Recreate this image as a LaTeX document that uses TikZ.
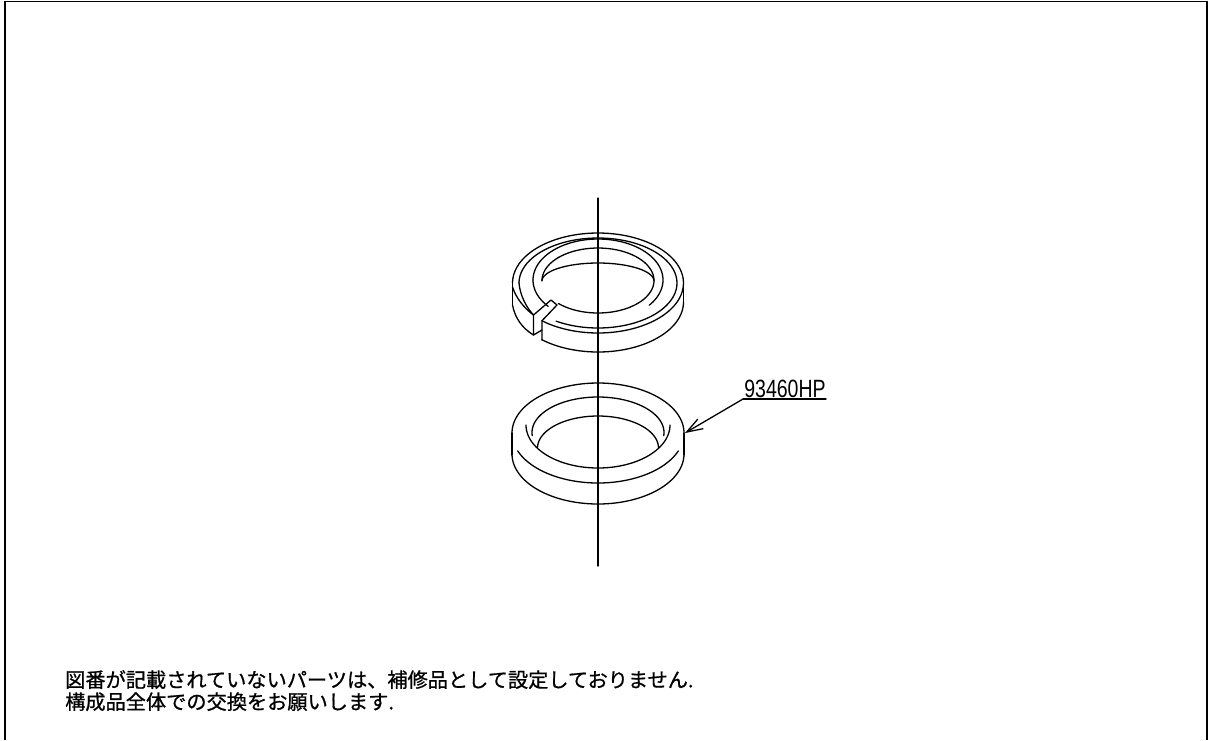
\documentclass[tikz,border=0pt]{standalone}
\usepackage{fontspec}
\newfontfamily\jpfont[FakeBold=0.8]{Noto Sans CJK JP}
\newfontfamily\partfont{Liberation Sans}
\usetikzlibrary{arrows.meta}
\newcommand{\earc}[6]{plot[domain=#5:#6,samples=70,smooth] ({#1+#3*cos(\x)},{#2-#4*sin(\x)})}
\tikzset{
  ln/.style={draw=black,line width=1.3pt,line join=round,line cap=round},
  framel/.style={draw=black,line width=1.7pt},
  note/.style={anchor=north west,inner sep=0pt,align=left,font=\jpfont\fontsize{20.2}{22}\selectfont},
  partlabel/.style={anchor=south,inner sep=0pt,xscale=.78,font=\partfont\fontsize{25}{25}\selectfont},
  leader/.style={ln,-{Straight Barb[length=16pt,width=11pt,line width=1.3pt]}}
}
\begin{document}
\begin{tikzpicture}[x=1pt,y=-1pt]
\useasboundingbox (0,0) rectangle (1209,740);
\fill[white] (0,0) rectangle (1209,740);
\draw[framel] (5,740) -- (5,1.5) -- (1207,1.5) -- (1207,740);
% centre line
\coordinate (axT) at (598,198);
\coordinate (axB) at (598,566);
\draw[ln] (axT) -- (axB);
% upper (split) washer: top face
\draw[ln] \earc{598}{283}{85.5}{50}{-131}{180};
\draw[ln] (512.5,283) -- (512.5,305);
\draw[ln] (683.5,283) -- (683.5,303);
\draw[ln] \earc{598}{302}{85.5}{50}{-131}{0};
\draw[ln] (512.5,305) .. controls (515,318) and (522,328) .. (533.5,335);
\draw[ln] (512.5,287) .. controls (516,298) and (524,308) .. (533.5,315);
\draw[ln] \earc{598}{283}{79}{45}{-122}{180};
\draw[ln] (519,283) .. controls (520,295) and (526,307) .. (533.5,315);
\draw[ln] \earc{598}{280}{65}{41}{-38}{180};
\draw[ln] \earc{598}{280}{65}{41}{-180}{-140};
\draw[ln] \earc{598}{280.5}{56}{32.5}{-135}{180};
\draw[ln] \earc{598}{281}{56}{18}{0}{180};
% upper washer: split
\draw[ln] (533.5,315) -- (551,300) -- (557,305) -- (542,320.7) -- (542,340);
\draw[ln] (533.5,315) -- (533.5,335) -- (542,330);
% lower washer
\draw[ln] \earc{598}{433}{86}{50}{0}{180};
\draw[ln] (512,433) -- (512,455);
\draw[ln] (684,433) -- (684,455);
\draw[ln] \earc{598}{454}{86}{50}{-180}{0};
\draw[ln] \earc{598}{433}{86}{50}{-159}{-21};
\draw[ln] \earc{598}{432.5}{66}{35.5}{-5}{185};
\draw[ln] \earc{598}{425}{72}{43}{-180}{0};
\draw[ln] \earc{598}{448}{60.5}{32}{0}{180};
% leader and label
\node[partlabel] (part) at (785,398) {93460HP};
\coordinate (ulL) at (743,399);
\coordinate (ulR) at (826,399);
\coordinate (tip) at (685,433);
\draw[ln] (ulR) -- (ulL);
\draw[leader] (ulL) -- (tip);
% note
\node[note] (note) at (65,670) {図番が記載されていないパーツは、補修品として設定しておりません.\\構成品全体での交換をお願いします.};
\end{tikzpicture}
\end{document}
